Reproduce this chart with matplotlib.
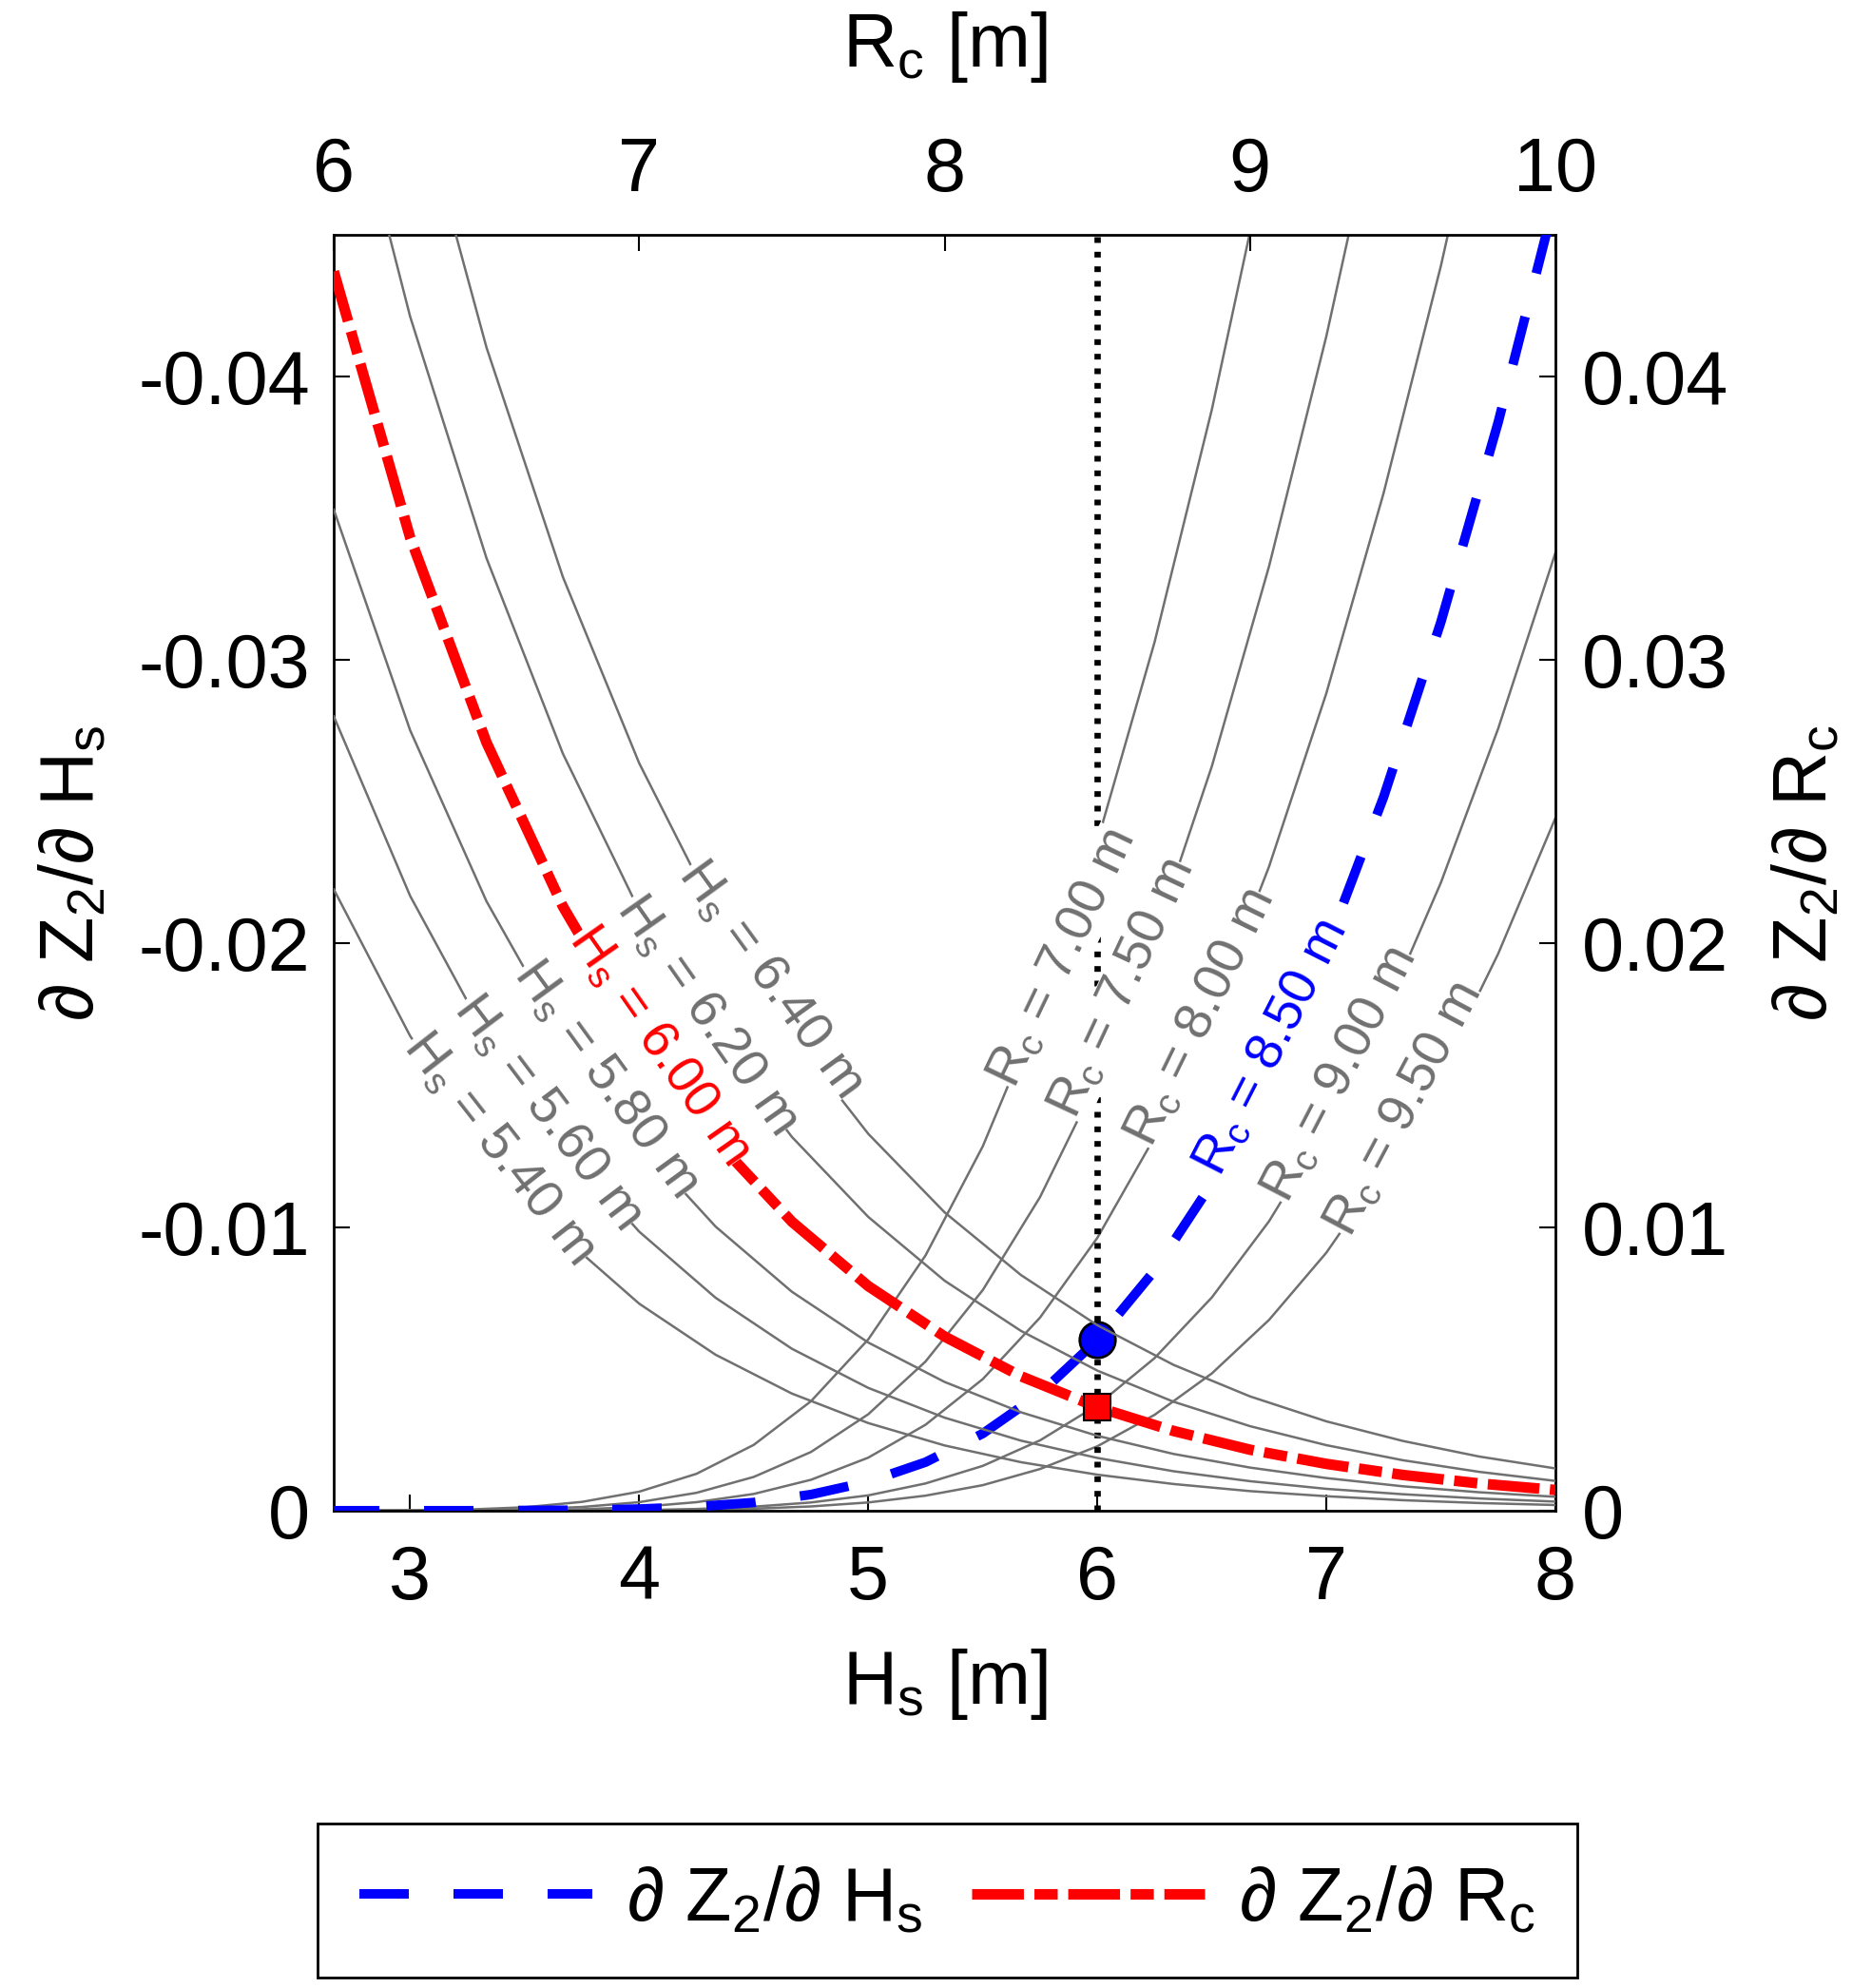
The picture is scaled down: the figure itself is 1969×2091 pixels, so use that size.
import matplotlib
matplotlib.use('Agg')
import matplotlib.pyplot as plt

plt.rcParams['font.family'] = ['Liberation Sans', 'DejaVu Sans']
plt.rcParams['mathtext.fontset'] = 'custom'
plt.rcParams['mathtext.rm'] = 'Liberation Sans'
plt.rcParams['mathtext.it'] = 'Liberation Sans'
plt.rcParams['mathtext.bf'] = 'Liberation Sans:bold'
plt.rcParams['axes.unicode_minus'] = False

# dZ2/dRc against Rc, one curve per Hs (top / right axes)
rc_grid = [6.0, 6.25, 6.5, 6.75, 7.0, 7.25, 7.5, 7.75, 8.0, 8.25, 8.5, 8.75, 9.0, 9.25, 9.5, 9.75, 10.0]
hs_levels = [5.4, 5.6, 5.8, 6.0, 6.2, 6.4]
dzdrc_hs540 = [0.02191, 0.01674, 0.01275, 0.00966, 0.00730, 0.00550, 0.00413, 0.00309, 0.00230,
               0.00171, 0.00127, 0.00094, 0.00069, 0.00051, 0.00037, 0.00027, 0.00020]
dzdrc_hs560 = [0.02801, 0.02168, 0.01672, 0.01285, 0.00984, 0.00751, 0.00571, 0.00433, 0.00328,
               0.00247, 0.00186, 0.00139, 0.00104, 0.00077, 0.00058, 0.00043, 0.00032]
dzdrc_hs580 = [0.03530, 0.02752, 0.02149, 0.01672, 0.01296, 0.01002, 0.00772, 0.00593, 0.00454,
               0.00347, 0.00264, 0.00200, 0.00152, 0.00115, 0.00086, 0.00065, 0.00049]
dzdrc_hs600 = [0.04370, 0.03432, 0.02709, 0.02131, 0.01672, 0.01307, 0.01019, 0.00792, 0.00614,
               0.00474, 0.00365, 0.00281, 0.00215, 0.00165, 0.00126, 0.00096, 0.00073]
dzdrc_hs620 = [0.05262, 0.04211, 0.03359, 0.02670, 0.02117, 0.01673, 0.01318, 0.01036, 0.00811,
               0.00634, 0.00494, 0.00384, 0.00298, 0.00231, 0.00178, 0.00137, 0.00105]
dzdrc_hs640 = [0.06304, 0.05093, 0.04102, 0.03293, 0.02636, 0.02104, 0.01674, 0.01329, 0.01052,
               0.00831, 0.00654, 0.00514, 0.00403, 0.00315, 0.00246, 0.00191, 0.00149]

# dZ2/dHs against Hs, one curve per Rc (bottom / left axes)
hs_grid = [2.65, 3.0, 3.25, 3.5, 3.75, 4.0, 4.25, 4.5, 4.75, 5.0, 5.25, 5.5, 5.75, 6.0, 6.25,
           6.5, 6.75, 7.0, 7.25, 7.5, 7.75, 8.0]
rc_levels = [7.0, 7.5, 8.0, 8.5, 9.0, 9.5]
dzdhs_rc700 = [0.0, -0.00001, -0.00004, -0.00012, -0.00031, -0.00067, -0.00130, -0.00232,
               -0.00386, -0.00604, -0.00900, -0.01285, -0.01769, -0.02359, -0.03063, -0.03883,
               -0.04822]
dzdhs_rc750 = [0.0, 0.0, -0.00001, -0.00005, -0.00013, -0.00030, -0.00063, -0.00119, -0.00207,
               -0.00340, -0.00526, -0.00778, -0.01106, -0.01518, -0.02022, -0.02625, -0.03331,
               -0.04142, -0.05060]
dzdhs_rc800 = [0.0, 0.0, 0.0, -0.00002, -0.00005, -0.00013, -0.00030, -0.00059, -0.00109,
               -0.00187, -0.00303, -0.00464, -0.00681, -0.00962, -0.01317, -0.01751, -0.02272,
               -0.02883, -0.03589, -0.04390, -0.05289]
dzdhs_rc850 = [0.0, 0.0, 0.0, -0.00001, -0.00002, -0.00006, -0.00014, -0.00029, -0.00057,
               -0.00102, -0.00171, -0.00272, -0.00413, -0.00602, -0.00847, -0.01154, -0.01531,
               -0.01984, -0.02517, -0.03134, -0.03838, -0.04629]
dzdhs_rc900 = [0.0, 0.0, 0.0, 0.0, -0.00001, -0.00002, -0.00006, -0.00014, -0.00029, -0.00054,
               -0.00096, -0.00158, -0.00248, -0.00372, -0.00538, -0.00752, -0.01021, -0.01351,
               -0.01747, -0.02215, -0.02758, -0.03378]
dzdhs_rc950 = [0.0, 0.0, 0.0, 0.0, 0.0, -0.00001, -0.00003, -0.00007, -0.00015, -0.00029,
               -0.00053, -0.00090, -0.00147, -0.00227, -0.00338, -0.00484, -0.00673, -0.00910,
               -0.01201, -0.01551, -0.01964, -0.02443]

# design point
design_hs = 6.0
design_rc = 8.5
design_dzdhs = -0.00602
design_dzdrc = 0.00365

# inline label spots (Rc, value, angle) and (Hs, value, angle)
hs_label_pos = [(6.54, 0.01277, -52), (6.70, 0.01405, -53), (6.89, 0.01522, -54),
                (7.065, 0.01639, -55), (7.22, 0.01747, -55), (7.43, 0.01874, -54)]
rc_label_pos = [(5.85, -0.01948, 64.5), (6.11, -0.01840, 65), (6.45, -0.01737, 64),
                (6.76, -0.01633, 63), (7.06, -0.01535, 62.6), (7.34, -0.01415, 62)]

hs_curves = [dzdrc_hs540, dzdrc_hs560, dzdrc_hs580, dzdrc_hs600, dzdrc_hs620, dzdrc_hs640]
rc_curves = [dzdhs_rc700, dzdhs_rc750, dzdhs_rc800, dzdhs_rc850, dzdhs_rc900, dzdhs_rc950]

GRAY = '#707070'
FS = 57
LFS = 40

fig = plt.figure(figsize=(19.69, 20.91), dpi=100)
ax = fig.add_axes([0.1783, 0.2401, 0.6526, 0.6419])
ax2 = fig.add_axes([0.1783, 0.2401, 0.6526, 0.6419], frameon=False)

# Hs-driven sensitivities (bottom / left)
for rc, vals in zip(rc_levels, rc_curves):
    if rc == design_rc:
        blue_line, = ax.plot(hs_grid[:len(vals)], vals, color='blue', lw=7.2,
                             linestyle=(0, (5.2, 4.7)), zorder=3)
    else:
        ax.plot(hs_grid[:len(vals)], vals, color=GRAY, lw=1.8, zorder=2)

ax.axvline(design_hs, color='black', lw=4.8, linestyle=(0, (0.9, 1.4)), zorder=2.5)
ax.plot([design_hs], [design_dzdhs], 'o', ms=27, mfc='blue', mec='black', mew=2, zorder=6)

for rc, (x, y, ang) in zip(rc_levels, rc_label_pos):
    col = 'blue' if rc == design_rc else GRAY
    ax.text(x, y, r'R$_\mathrm{c}$ = %.2f m' % rc, color=col, fontsize=LFS, rotation=ang,
            rotation_mode='anchor', ha='center', va='center', zorder=4,
            bbox=dict(facecolor='white', edgecolor='none', pad=0))

ax.set_xlim(2.6667, 8)
ax.set_ylim(0, -0.045)
ax.set_xticks([3, 4, 5, 6, 7, 8])
ax.set_yticks([0, -0.01, -0.02, -0.03, -0.04])
ax.set_yticklabels(['0', '-0.01', '-0.02', '-0.03', '-0.04'])
ax.tick_params(direction='in', length=12, width=1.5, labelsize=FS)
ax.tick_params(axis='x', pad=25)
ax.tick_params(axis='y', pad=18)
ax.set_xlabel(r'H$_\mathrm{s}$ [m]', fontsize=FS, labelpad=24)
ax.set_ylabel(r'$\partial\ \mathrm{Z}_2/\partial\ \mathrm{H}_\mathrm{s}$', fontsize=FS, labelpad=22)
for sp in ax.spines.values():
    sp.set_linewidth(2)

# Rc-driven sensitivities (top / right)
for hs, vals in zip(hs_levels, hs_curves):
    if hs == design_hs:
        red_line, = ax2.plot(rc_grid, vals, color='red', lw=8,
                             linestyle=(0, (4.9, 1.0, 2.2, 1.0)), zorder=3)
    else:
        ax2.plot(rc_grid, vals, color=GRAY, lw=1.8, zorder=2)

ax2.plot([design_rc], [design_dzdrc], 's', ms=20, mfc='red', mec='black', mew=1.5, zorder=6)

for hs, (x, y, ang) in zip(hs_levels, hs_label_pos):
    col = 'red' if hs == design_hs else GRAY
    ax2.text(x, y, r'H$_\mathrm{s}$ = %.2f m' % hs, color=col, fontsize=LFS, rotation=ang,
             rotation_mode='anchor', ha='center', va='center', zorder=4,
             bbox=dict(facecolor='white', edgecolor='none', pad=0))

ax2.set_xlim(6, 10)
ax2.set_ylim(0, 0.045)
ax2.xaxis.set_ticks_position('top')
ax2.xaxis.set_label_position('top')
ax2.yaxis.set_ticks_position('right')
ax2.yaxis.set_label_position('right')
ax2.set_xticks([6, 7, 8, 9, 10])
ax2.set_yticks([0, 0.01, 0.02, 0.03, 0.04])
ax2.set_yticklabels(['0', '0.01', '0.02', '0.03', '0.04'])
ax2.tick_params(direction='in', length=12, width=1.5, labelsize=FS)
ax2.tick_params(axis='x', pad=21)
ax2.tick_params(axis='y', pad=20)
ax2.set_xlabel(r'R$_\mathrm{c}$ [m]', fontsize=FS, labelpad=52)
ax2.set_ylabel(r'$\partial\ \mathrm{Z}_2/\partial\ \mathrm{R}_\mathrm{c}$', fontsize=FS,
               labelpad=32, rotation=90)

leg = fig.legend([blue_line, red_line],
                 [r'$\partial\ \mathrm{Z}_2/\partial\ \mathrm{H}_\mathrm{s}$',
                  r'$\partial\ \mathrm{Z}_2/\partial\ \mathrm{R}_\mathrm{c}$'],
                 loc='center', bbox_to_anchor=(0.506, 0.044), ncol=2, fontsize=FS,
                 handlelength=3.1, handletextpad=0.45, columnspacing=0.65,
                 fancybox=False, framealpha=1, edgecolor='black', borderpad=0.55)
leg.get_frame().set_linewidth(2)

fig.savefig('out.png', dpi=100)
